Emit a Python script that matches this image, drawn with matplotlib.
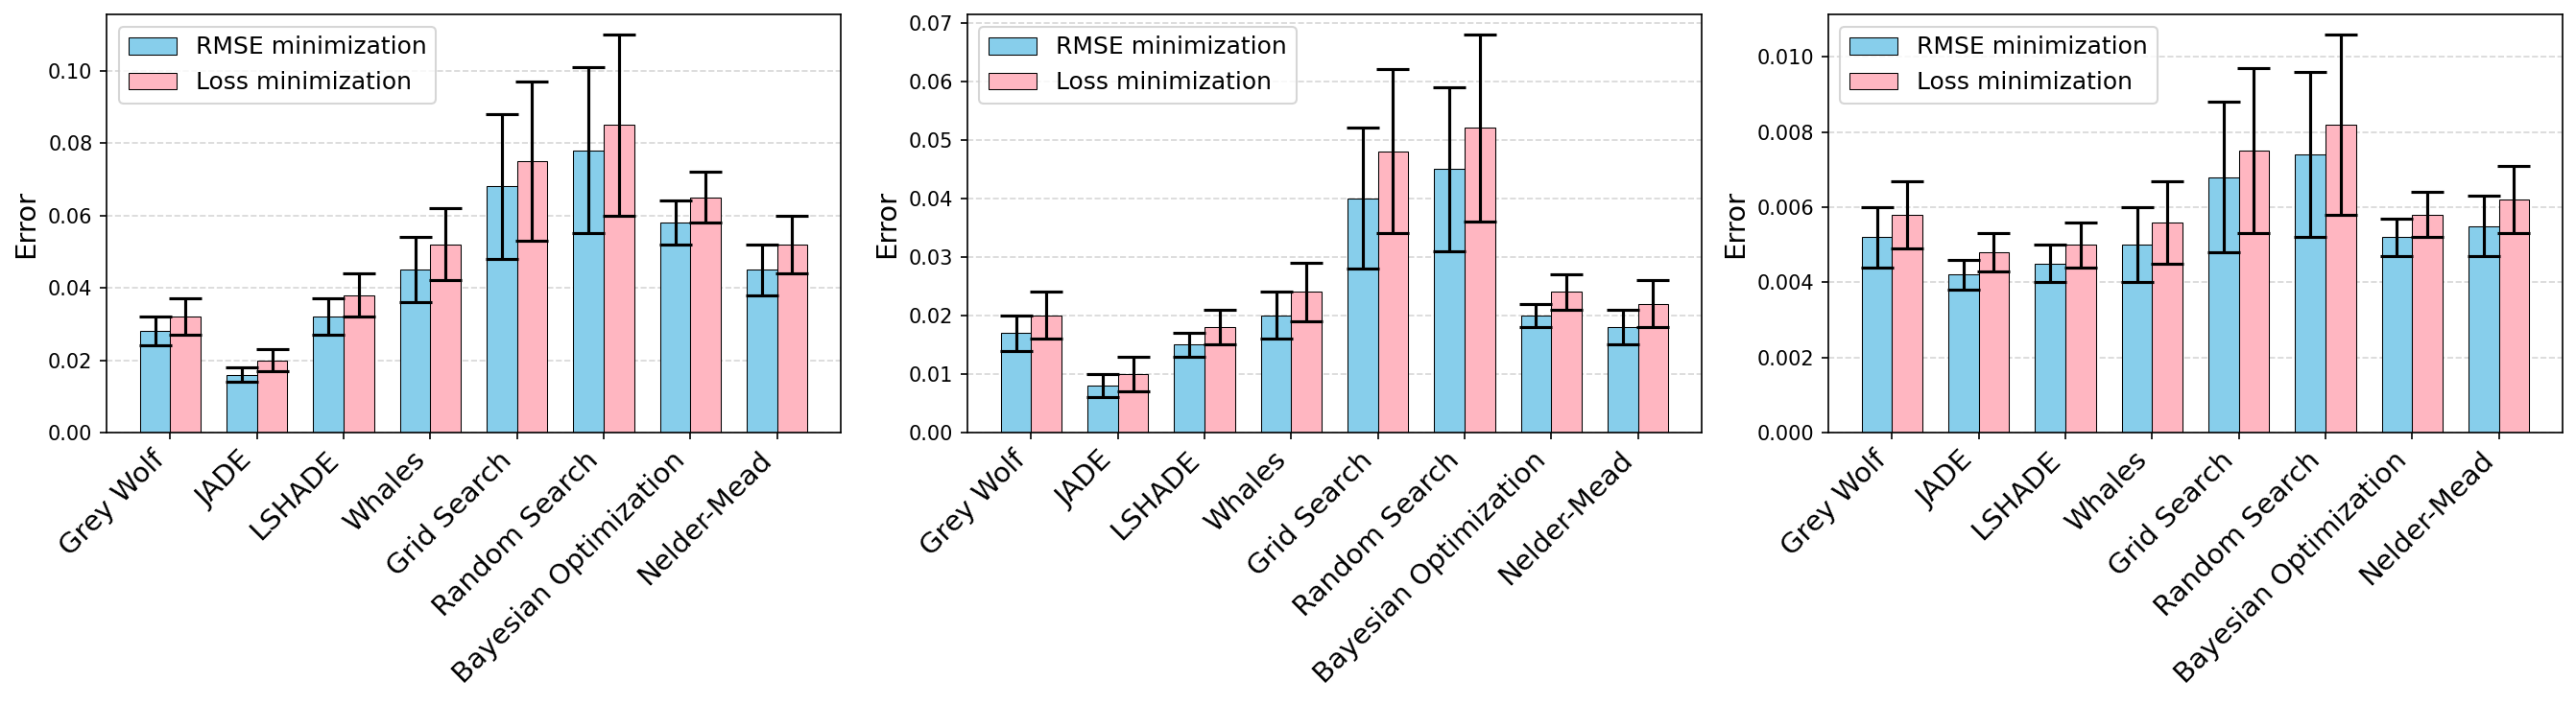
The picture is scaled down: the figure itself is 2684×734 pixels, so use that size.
import numpy as np
import matplotlib
matplotlib.use("Agg")
import matplotlib.pyplot as plt

methods = ["Grey Wolf", "JADE", "LSHADE", "Whales", "Grid Search",
           "Random Search", "Bayesian Optimization", "Nelder-Mead"]

# panel 1
rmse_1 = [0.028, 0.016, 0.032, 0.045, 0.068, 0.078, 0.058, 0.045]
rmse_err_1 = [0.004, 0.002, 0.005, 0.009, 0.020, 0.023, 0.006, 0.007]
loss_1 = [0.032, 0.020, 0.038, 0.052, 0.075, 0.085, 0.065, 0.052]
loss_err_1 = [0.005, 0.003, 0.006, 0.010, 0.022, 0.025, 0.007, 0.008]

# panel 2
rmse_2 = [0.017, 0.008, 0.015, 0.020, 0.040, 0.045, 0.020, 0.018]
rmse_err_2 = [0.003, 0.002, 0.002, 0.004, 0.012, 0.014, 0.002, 0.003]
loss_2 = [0.020, 0.010, 0.018, 0.024, 0.048, 0.052, 0.024, 0.022]
loss_err_2 = [0.004, 0.003, 0.003, 0.005, 0.014, 0.016, 0.003, 0.004]

# panel 3
rmse_3 = [0.0052, 0.0042, 0.0045, 0.0050, 0.0068, 0.0074, 0.0052, 0.0055]
rmse_err_3 = [0.0008, 0.0004, 0.0005, 0.0010, 0.0020, 0.0022, 0.0005, 0.0008]
loss_3 = [0.0058, 0.0048, 0.0050, 0.0056, 0.0075, 0.0082, 0.0058, 0.0062]
loss_err_3 = [0.0009, 0.0005, 0.0006, 0.0011, 0.0022, 0.0024, 0.0006, 0.0009]

panels = [
    (rmse_1, rmse_err_1, loss_1, loss_err_1),
    (rmse_2, rmse_err_2, loss_2, loss_err_2),
    (rmse_3, rmse_err_3, loss_3, loss_err_3),
]

fig, axes = plt.subplots(1, 3, figsize=(2684 / 150, 734 / 150), dpi=150)
fig.subplots_adjust(left=111 / 2684, right=2670 / 2684, top=1 - 15 / 734,
                    bottom=1 - 451 / 734, wspace=0.1725)

x = np.arange(len(methods))
width = 0.35
err_style = dict(elinewidth=1.5, capthick=1.5, ecolor="black")

for ax, (rmse, rmse_err, loss, loss_err) in zip(axes, panels):
    ax.bar(x - width / 2, rmse, width, yerr=rmse_err, capsize=8,
           color="skyblue", edgecolor="black", linewidth=0.5,
           error_kw=err_style, label="RMSE minimization")
    ax.bar(x + width / 2, loss, width, yerr=loss_err, capsize=8,
           color="lightpink", edgecolor="black", linewidth=0.5,
           error_kw=err_style, label="Loss minimization")
    ax.set_xticks(x)
    ax.set_xticklabels(methods, rotation=45, ha="right", fontsize=14)
    ax.set_ylabel("Error", fontsize=14)
    ax.grid(True, axis="y", linestyle="--", alpha=0.5)
    ax.set_axisbelow(True)
    ax.legend(loc="upper left", fontsize=12)

fig.savefig("out.png", dpi=150)
